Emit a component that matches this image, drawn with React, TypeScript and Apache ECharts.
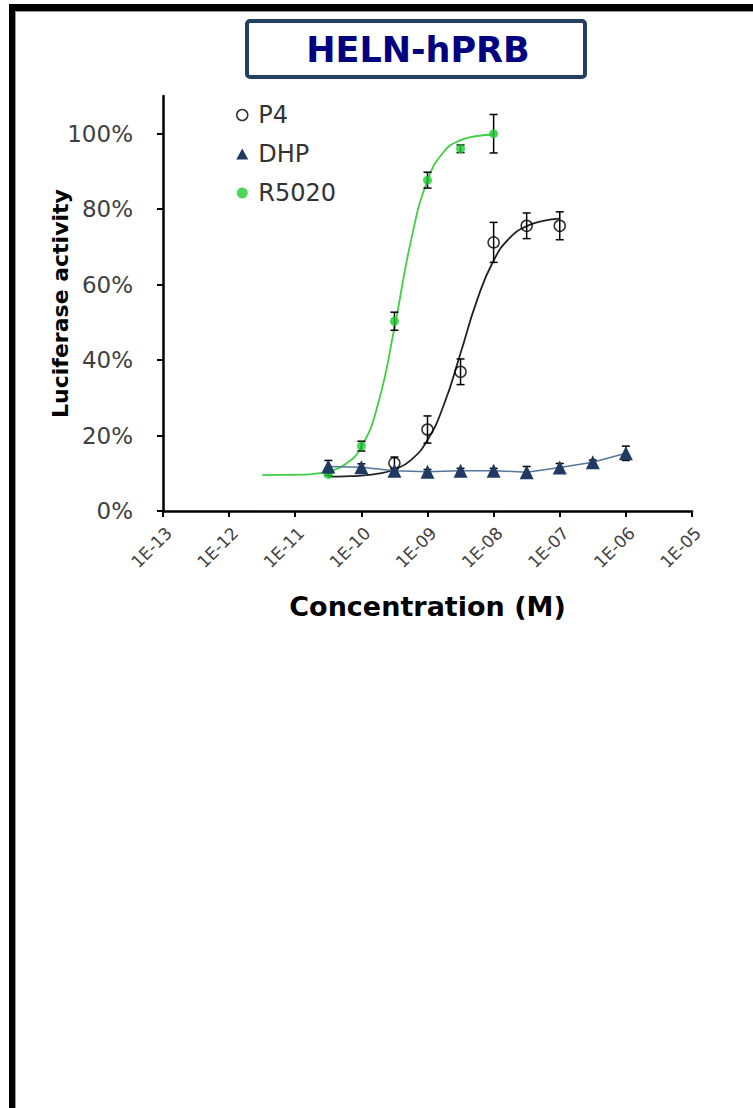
import React, { useEffect, useRef } from 'react';
import * as echarts from 'echarts';

// Measured points (concentration in M, response in %)
const p4Conc = [3.16e-10, 1e-9, 3.16e-9, 1e-8, 3.16e-8, 1e-7];
const p4Resp = [12.7, 21.6, 36.9, 71.2, 75.6, 75.6];
const p4Err = [1.6, 3.6, 3.4, 5.3, 3.4, 3.7];

const dhpConc = [3.16e-11, 1e-10, 3.16e-10, 1e-9, 3.16e-9, 1e-8, 3.16e-8, 1e-7, 3.16e-7, 1e-6];
const dhpResp = [11.8, 11.6, 10.7, 10.4, 10.7, 10.7, 10.3, 11.5, 12.9, 15.3];
const dhpErr = [1.6, 0.9, 0.6, 0.6, 0.6, 0.6, 1.5, 1.1, 0.6, 1.9];

const r5020Conc = [3.16e-11, 1e-10, 3.16e-10, 1e-9, 3.16e-9, 1e-8];
const r5020Resp = [9.7, 17.2, 50.3, 87.7, 96.0, 100];
const r5020Err = [0.3, 1.3, 2.4, 2.1, 1.0, 5.1];

// Fitted curves
const r5020CurveConc = [3.16e-12, 5.62e-12, 1e-11, 1.78e-11, 3.16e-11, 5.62e-11, 1e-10, 1.78e-10, 3.16e-10, 5.62e-10, 1e-9, 1.78e-9, 3.16e-9, 5.62e-9, 1e-8];
const r5020CurveResp = [9.5, 9.55, 9.6, 9.8, 10.5, 12.3, 17.0, 28.3, 48.5, 71.6, 87.6, 95.3, 98.3, 99.4, 99.8];

const p4CurveConc = [3.16e-11, 5.62e-11, 1e-10, 1.78e-10, 3.16e-10, 5.62e-10, 1e-9, 1.78e-9, 3.16e-9, 5.62e-9, 1e-8, 1.78e-8, 3.16e-8, 5.62e-8, 1e-7];
const p4CurveResp = [9.1, 9.2, 9.4, 9.9, 11.0, 13.5, 18.8, 28.3, 41.8, 55.9, 66.4, 72.5, 75.5, 76.9, 77.5];

const yTickValues = [0, 20, 40, 60, 80, 100];
const seriesNames = ['P4', 'DHP', 'R5020'];
const titleText = 'HELN-hPRB';
const xAxisTitle = 'Concentration (M)';
const yAxisTitle = 'Luciferase activity';

const zip2 = (a: number[], b: number[]) => a.map((v, i) => [v, b[i]]);
const zip3 = (a: number[], b: number[], c: number[]) => a.map((v, i) => [v, b[i], c[i]]);

const errorBarSeries = (name: string, data: number[][]) => ({
  type: 'custom',
  name,
  silent: true,
  z: 2,
  encode: { x: 0, y: 1 },
  data,
  renderItem: (_params: any, api: any) => {
    const x = api.value(0);
    const y = api.value(1);
    const e = api.value(2);
    const top = api.coord([x, y + e]);
    const bot = api.coord([x, y - e]);
    const hw = 4;
    const style = { stroke: '#000', lineWidth: 1.5 };
    return {
      type: 'group',
      children: [
        { type: 'line', shape: { x1: top[0], y1: top[1], x2: bot[0], y2: bot[1] }, style },
        { type: 'line', shape: { x1: top[0] - hw, y1: top[1], x2: top[0] + hw, y2: top[1] }, style },
        { type: 'line', shape: { x1: bot[0] - hw, y1: bot[1], x2: bot[0] + hw, y2: bot[1] }, style },
      ],
    };
  },
});

export default function App() {
  const ref = useRef<HTMLDivElement>(null);
  useEffect(() => {
    if (!ref.current) return;
    const chart = echarts.init(ref.current, null, { renderer: 'svg' });
    const labelColor = '#404040';
    chart.setOption({
      animation: false,
      backgroundColor: '#fff',
      graphic: [
        { type: 'rect', shape: { x: 9, y: 4, width: 744, height: 7 }, style: { fill: '#000' } },
        { type: 'rect', shape: { x: 9, y: 4, width: 6, height: 1104 }, style: { fill: '#000' } },
        { type: 'line', shape: { x1: 15, y1: 11.5, x2: 753, y2: 11.5 }, style: { stroke: '#999', lineWidth: 1 } },
        { type: 'line', shape: { x1: 15.5, y1: 11, x2: 15.5, y2: 1108 }, style: { stroke: '#999', lineWidth: 1 } },
        {
          type: 'rect',
          shape: { x: 247, y: 21, width: 338, height: 56, r: 3 },
          style: { fill: '#fff', stroke: '#243F60', lineWidth: 4 },
        },
        {
          type: 'text',
          x: 418,
          y: 50,
          style: {
            text: titleText,
            fill: '#000080',
            font: 'bold 35px "DejaVu Sans"',
            align: 'center',
            verticalAlign: 'middle',
          },
        },
      ],
      grid: { left: 163, right: 61, top: 96, bottom: 597 },
      legend: {
        orient: 'vertical',
        left: 231,
        top: 98,
        itemGap: 15,
        itemWidth: 12,
        itemHeight: 11,
        selectedMode: false,
        textStyle: { fontFamily: 'DejaVu Sans', fontSize: 24, color: '#333', padding: [0, 0, 0, 5] },
        data: [
          { name: seriesNames[0], icon: 'circle', itemStyle: { borderWidth: 1.5 } },
          { name: seriesNames[1], icon: 'triangle' },
          { name: seriesNames[2], icon: 'circle' },
        ],
      },
      xAxis: {
        type: 'log',
        logBase: 10,
        min: 1e-13,
        max: 1e-5,
        splitNumber: 8,
        name: xAxisTitle,
        nameLocation: 'middle',
        nameGap: 82,
        nameMoveOverlap: false,
        nameTextStyle: { fontFamily: 'DejaVu Sans', fontWeight: 'bold', fontSize: 27, color: '#000' },
        axisLine: { show: true, lineStyle: { color: '#000', width: 2.5 } },
        axisTick: { show: true, length: 6, lineStyle: { color: '#000', width: 2 } },
        minorTick: { show: false },
        splitLine: { show: false },
        axisLabel: {
          rotate: 45,
          margin: 13,
          fontFamily: 'DejaVu Sans',
          fontSize: 17,
          color: labelColor,
          verticalAlign: 'top',
          formatter: (v: number) => {
            const e = Math.round(Math.log10(v));
            return '1E' + (e < 0 ? '-' : '+') + String(Math.abs(e)).padStart(2, '0');
          },
        },
      },
      yAxis: {
        type: 'value',
        min: 0,
        max: 110,
        interval: 20,
        name: yAxisTitle,
        nameLocation: 'middle',
        nameRotate: 90,
        nameGap: 92,
        nameMoveOverlap: false,
        nameTextStyle: { fontFamily: 'DejaVu Sans', fontWeight: 'bold', fontSize: 22, color: '#000' },
        axisLine: { show: true, lineStyle: { color: '#000', width: 2.5 } },
        axisTick: { show: true, length: 6, lineStyle: { color: '#000', width: 2 }, customValues: yTickValues },
        splitLine: { show: false },
        axisLabel: {
          margin: 30,
          fontFamily: 'DejaVu Sans',
          fontSize: 23,
          color: labelColor,
          customValues: yTickValues,
          formatter: '{value}%',
        },
      },
      series: [
        {
          type: 'line',
          name: 'R5020 fit',
          data: zip2(r5020CurveConc, r5020CurveResp),
          smooth: true,
          showSymbol: false,
          silent: true,
          z: 1,
          lineStyle: { color: '#3FCF3F', width: 1.8 },
        },
        {
          type: 'line',
          name: 'P4 fit',
          data: zip2(p4CurveConc, p4CurveResp),
          smooth: true,
          showSymbol: false,
          silent: true,
          z: 1,
          lineStyle: { color: '#222', width: 1.8 },
        },
        errorBarSeries('P4 err', zip3(p4Conc, p4Resp, p4Err)),
        errorBarSeries('DHP err', zip3(dhpConc, dhpResp, dhpErr)),
        errorBarSeries('R5020 err', zip3(r5020Conc, r5020Resp, r5020Err)),
        {
          type: 'scatter',
          name: seriesNames[0],
          data: zip2(p4Conc, p4Resp),
          symbol: 'circle',
          symbolSize: 11,
          z: 3,
          itemStyle: { color: 'transparent', borderColor: '#000', borderWidth: 1.5 },
        },
        {
          type: 'line',
          name: seriesNames[1],
          data: zip2(dhpConc, dhpResp),
          symbol: 'triangle',
          symbolSize: 14,
          showAllSymbol: true,
          z: 4,
          lineStyle: { color: '#55759A', width: 1.5 },
          itemStyle: { color: '#1F3A63' },
        },
        {
          type: 'scatter',
          name: seriesNames[2],
          data: zip2(r5020Conc, r5020Resp),
          symbol: 'circle',
          symbolSize: 9,
          z: 3,
          itemStyle: { color: '#22CC33' },
        },
      ],
    });
    return () => chart.dispose();
  }, []);
  return <div ref={ref} style={{ position: 'absolute', left: 0, top: 0, width: 753, height: 1108 }} />;
}
